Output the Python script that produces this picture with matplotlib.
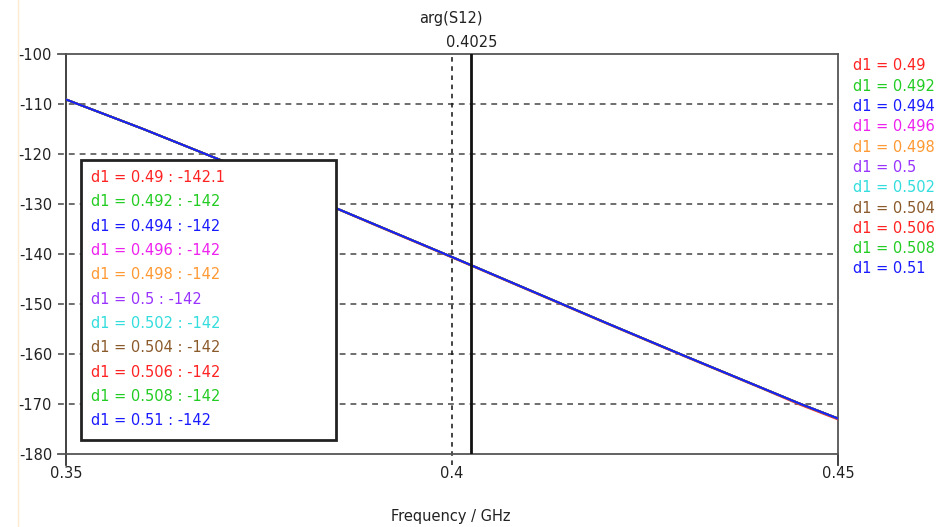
import numpy as np
import matplotlib
matplotlib.use('Agg')
import matplotlib.pyplot as plt
from matplotlib.patches import Rectangle
from matplotlib.lines import Line2D

# data
freq = [0.35, 0.36, 0.37, 0.38, 0.39, 0.40, 0.41, 0.42, 0.43, 0.44, 0.445, 0.45]
phase_d049 = [-109.1, -115.0, -121.2, -127.6, -134.2, -140.7, -147.3, -153.9, -160.4, -166.8, -170.1, -173.1]
phase_other = [-109.1, -115.0, -121.2, -127.6, -134.1, -140.6, -147.2, -153.8, -160.3, -166.7, -169.9, -172.9]
d1_values = [0.49, 0.492, 0.494, 0.496, 0.498, 0.5, 0.502, 0.504, 0.506, 0.508, 0.51]
marker_values = [-142.1, -142, -142, -142, -142, -142, -142, -142, -142, -142, -142]
colors = ['#ff2222', '#22cc22', '#1a1aff', '#ee22ee', '#ff9933', '#9933ff',
          '#33dddd', '#8b5a2b', '#ff2222', '#22cc22', '#1a1aff']
marker_freq = 0.4025
yticks = [-100, -110, -120, -130, -140, -150, -160, -170, -180]
xticks = [0.35, 0.4, 0.45]

plt.rcParams['font.family'] = ['DejaVu Sans']
plt.rcParams['axes.unicode_minus'] = False
fs = 10.5
W, H = 952, 527
fig = plt.figure(figsize=(W/100, H/100), dpi=100)
L, R, T, B = 66, 838, 54, 454
ax = fig.add_axes([L/W, 1-B/H, (R-L)/W, (B-T)/H])
ax.set_xlim(0.35, 0.45)
ax.set_ylim(-180, -100)

for s in ax.spines.values():
    s.set_color('#555555')
    s.set_linewidth(1.3)
ax.spines['left'].set_color('#333333')

ax.set_xticks(xticks)
ax.set_xticklabels(['0.35', '0.4', '0.45'])
ax.set_yticks(yticks)
ax.set_yticklabels([str(v) for v in yticks])
ax.tick_params(length=0, labelsize=fs, colors='#222222')
ax.tick_params(axis='y', pad=10)
ax.tick_params(axis='x', pad=9)

# grid lines, dashed, extended to the left like the ticks
ext = 8/(R-L)
for y in yticks[1:-1]:
    ax.plot([-ext, 1], [y, y], transform=ax.get_yaxis_transform(), clip_on=False,
            color='#555555', lw=1.2, dashes=(3.5, 3), zorder=1)
for y in [yticks[0], yticks[-1]]:
    ax.plot([-ext, 0], [y, y], transform=ax.get_yaxis_transform(), clip_on=False,
            color='#555555', lw=1.3)
dy = 11/(B-T)
ax.plot([0.4, 0.4], [-dy, 1], transform=ax.get_xaxis_transform(), clip_on=False,
        color='#111111', lw=1.1, dashes=(3, 3), zorder=1)
for x in [0.35, 0.45]:
    ax.plot([x, x], [-dy, 0], transform=ax.get_xaxis_transform(), clip_on=False,
            color='#333333', lw=1.3)

# curves
for d, c in zip(d1_values, colors):
    vals = phase_d049 if d == 0.49 else phase_other
    ax.plot(freq, vals, color=c, lw=1.4, zorder=3)

# marker
ax.axvline(marker_freq, color='#111111', lw=2, zorder=4)
ax.text(marker_freq, 1.01, f'{marker_freq:g}', transform=ax.get_xaxis_transform(),
        ha='center', va='bottom', fontsize=fs, color='#222222')

# marker readout box
bx0, bx1 = (81-L)/(R-L), (336-L)/(R-L)
by0, by1 = (B-440)/(B-T), (B-160)/(B-T)
ax.add_patch(Rectangle((bx0, by0), bx1-bx0, by1-by0, transform=ax.transAxes,
                       facecolor='white', edgecolor='#222222', lw=2, zorder=5))
for i, (d, m, c) in enumerate(zip(d1_values, marker_values, colors)):
    yp = 177.5 + i*24.33
    ax.text((91-L)/(R-L), (B-yp)/(B-T), f'd1 = {d:g} : {m:g}', transform=ax.transAxes,
            ha='left', va='center', fontsize=fs, color=c, zorder=6)

# legend on the right
for i, (d, c) in enumerate(zip(d1_values, colors)):
    yp = 66 + i*20.3
    fig.text(853/W, 1-yp/H, f'd1 = {d:g}', ha='left', va='center', fontsize=fs, color=c)

fig.text(451/W, 1-18/H, 'arg(S12)', ha='center', va='center', fontsize=fs, color='#222222')
fig.text(451/W, 1-517/H, 'Frequency / GHz', ha='center', va='center', fontsize=fs, color='#222222')
fig.add_artist(Line2D([18/W, 18/W], [0, 1], color='#fdeccf', lw=1))

fig.savefig('out.png', dpi=100)
